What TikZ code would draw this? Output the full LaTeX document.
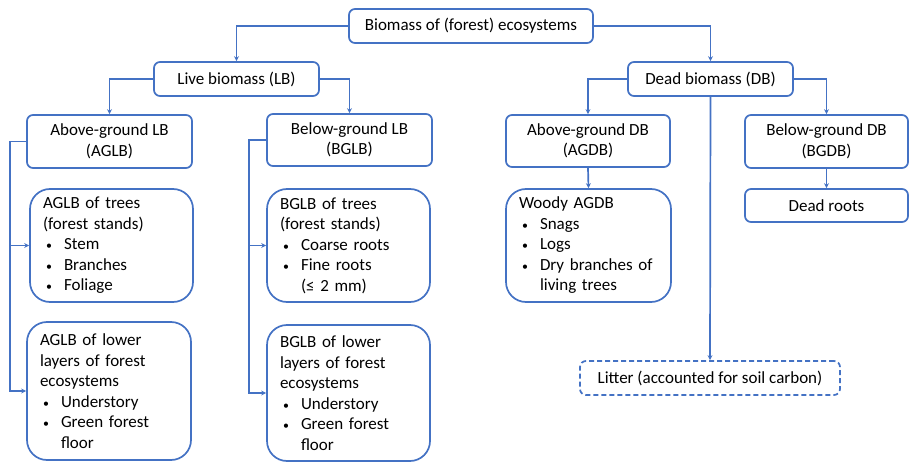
\documentclass[tikz,border=0pt]{standalone}
\usepackage{fontspec}
\setmainfont{Carlito}
\usetikzlibrary{arrows.meta}
\definecolor{linkblue}{HTML}{4472C4}
\newcommand{\bitem}{\makebox[21pt][l]{\hspace{3pt}\scalebox{0.7}{\textbullet}}}
\newcommand{\bcont}{\hspace*{21pt}}

\begin{document}
\begin{tikzpicture}[x=1pt, y=1pt, >={Stealth[length=5pt,width=5pt]},
  every node/.style={font=\fontsize{17}{20.5}\selectfont},
  box/.style={draw=linkblue, line width=1.7pt, rounded corners=6pt, fill=white,
    align=center, inner sep=0pt},
  bigbox/.style={draw=linkblue, line width=1.7pt, rounded corners=20pt, fill=white,
    align=left, inner xsep=13pt, inner ysep=0pt},
  link/.style={draw=linkblue, line width=1.7pt, ->}]

\useasboundingbox (0,0) rectangle (909,-465);

% Top level
\node[box, minimum width=244pt, minimum height=34pt] (root) at (471,-26) {Biomass of (forest) ecosystems};

% Live and dead biomass
\node[box, minimum width=165pt, minimum height=34pt] (lb) at (236.5,-79) {Live biomass (LB)};
\node[box, minimum width=165pt, minimum height=34pt] (db) at (710.5,-79) {Dead biomass (DB)};

% Above- and below-ground pools
\node[box, minimum width=165pt, minimum height=53pt] (aglb) at (109.5,-141.5) {Above-ground LB\\(AGLB)};
\node[box, minimum width=165pt, minimum height=52pt] (bglb) at (349.5,-140) {Below-ground LB\\(BGLB)};
\node[box, minimum width=164pt, minimum height=52pt] (agdb) at (588,-141) {Above-ground DB\\(AGDB)};
\node[box, minimum width=163pt, minimum height=53pt] (bgdb) at (826.5,-141.5) {Below-ground DB\\(BGDB)};

% Components of live biomass
\node[bigbox, text width=137pt, minimum height=113pt] (agtrees) at (111.5,-245.5)
  {AGLB of trees\\(forest stands)\\\bitem Stem\\\bitem Branches\\\bitem Foliage};
\node[bigbox, text width=138pt, minimum height=138pt] (aglower) at (109,-391)
  {AGLB of lower\\layers of forest\\ecosystems\\\bitem Understory\\\bitem Green forest\\\bcont floor};
\node[bigbox, text width=137pt, minimum height=113pt] (bgtrees) at (348.5,-245.5)
  {BGLB of trees\\(forest stands)\\\bitem Coarse roots\\\bitem Fine roots\\\bcont (≤ 2 mm)};
\node[bigbox, text width=137pt, minimum height=136pt] (bglower) at (348.5,-393)
  {BGLB of lower\\layers of forest\\ecosystems\\\bitem Understory\\\bitem Green forest\\\bcont floor};

% Components of dead biomass
\node[bigbox, text width=139pt, minimum height=113pt] (woody) at (588.5,-245.5)
  {Woody AGDB\\\bitem Snags\\\bitem Logs\\\bitem Dry branches of\\\bcont living trees};
\node[box, minimum width=163pt, minimum height=33pt] (roots) at (826.5,-205.5) {Dead roots};
\node[box, dashed, dash pattern=on 5pt off 3pt, minimum width=260pt, minimum height=34pt] (litter) at (710,-378)
  {Litter (accounted for soil carbon)};

% Connectors
\draw[link] (root.west) -| (lb.north);
\draw[link] (root.east) -| (db.north);
\draw[link] (lb.west) -| (aglb.north);
\draw[link] (lb.east) -| (bglb.north);
\draw[link] (db.west) -| (agdb.north);
\draw[link] (db.east) -| (bgdb.north);
\draw[link] (db.south) -- (litter.north);
\draw[link] (agdb.south) -- (woody.north);
\draw[link] (bgdb.south) -- (roots.north);
\draw[link] (aglb.west) -- ++(-16,0) coordinate (agbend) |- (agtrees.west);
\draw[link] (agbend) |- (aglower.west);
\draw[link] (bglb.west) -- ++(-17,0) coordinate (bgbend) |- (bgtrees.west);
\draw[link] (bgbend) |- (bglower.west);

\end{tikzpicture}
\end{document}
